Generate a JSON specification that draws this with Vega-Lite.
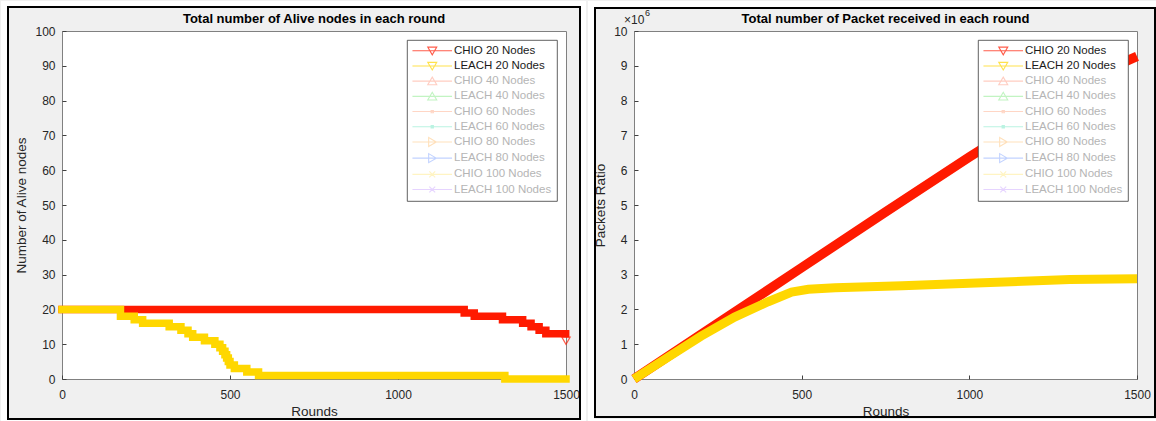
{
  "$schema": "https://vega.github.io/schema/vega-lite/v6.json",
  "background": "#f0f0f0",
  "padding": 0,
  "autosize": {"type": "pad"},
  "spacing": 0,
  "resolve": {
    "scale": {"color": "independent", "shape": "independent"},
    "legend": {"color": "independent", "shape": "independent"}
  },
  "config": {
    "font": "Liberation Sans",
    "view": {"fill": "white", "stroke": "#808080", "strokeWidth": 1},
    "axis": {
      "labelFont": "Liberation Sans", "labelFontSize": 12, "labelColor": "#262626",
      "titleFont": "Liberation Sans", "titleFontSize": 13.5, "titleFontWeight": "normal", "titleColor": "#262626",
      "gridColor": "#e6e6e6", "gridWidth": 1, "domain": false,
      "ticks": true, "tickSize": -4, "tickColor": "#404040",
      "labelPadding": 11, "titlePadding": 6
    },
    "axisX": {"labelFlush": false, "labelPadding": 14, "titlePadding": 4, "format": "d"},
    "title": {"font": "Liberation Sans", "fontSize": 13, "fontWeight": "bold", "color": "#000000", "offset": -25, "frame": "group"},
    "legend": {
      "orient": "top-right", "offset": 9, "padding": 5, "rowPadding": 2.2,
      "fillColor": "white", "strokeColor": "#3a3a3a", "strokeWidth": 0.8,
      "labelFont": "Liberation Sans", "labelFontSize": 11.5,
      "labelColor": {"expr": "datum.value == 'CHIO 20 Nodes' || datum.value == 'LEACH 20 Nodes' ? '#1a1a1a' : '#b5b5b5'"},
      "symbolSize": 81, "symbolStrokeWidth": 1.1, "symbolOffset": 14.5, "labelOffset": 16
    }
  },
  "datasets": {
    "alive_chio": [
      {"round": 0, "nodes": 20}, {"round": 1197, "nodes": 19}, {"round": 1227, "nodes": 18},
      {"round": 1311, "nodes": 17}, {"round": 1371, "nodes": 16}, {"round": 1396, "nodes": 15},
      {"round": 1420, "nodes": 14}, {"round": 1440, "nodes": 13}, {"round": 1499, "nodes": 13},
      {"round": 1500, "nodes": 11}
    ],
    "alive_leach": [
      {"round": 0, "nodes": 20}, {"round": 174, "nodes": 18}, {"round": 215, "nodes": 17},
      {"round": 240, "nodes": 16}, {"round": 319, "nodes": 15}, {"round": 354, "nodes": 14},
      {"round": 375, "nodes": 13}, {"round": 389, "nodes": 12}, {"round": 424, "nodes": 11},
      {"round": 455, "nodes": 10}, {"round": 470, "nodes": 9}, {"round": 478, "nodes": 8},
      {"round": 485, "nodes": 7}, {"round": 490, "nodes": 6}, {"round": 495, "nodes": 5},
      {"round": 500, "nodes": 4}, {"round": 513, "nodes": 3}, {"round": 550, "nodes": 2},
      {"round": 585, "nodes": 1}, {"round": 1318, "nodes": 0}, {"round": 1500, "nodes": 0}
    ],
    "packets_chio": [
      {"round": 0, "packets": 0}, {"round": 250, "packets": 1600000}, {"round": 500, "packets": 3200000},
      {"round": 750, "packets": 4800000}, {"round": 1000, "packets": 6380000}, {"round": 1250, "packets": 7900000},
      {"round": 1460, "packets": 9100000}, {"round": 1500, "packets": 9270000}
    ],
    "packets_leach": [
      {"round": 0, "packets": 0}, {"round": 100, "packets": 620000}, {"round": 200, "packets": 1230000},
      {"round": 300, "packets": 1780000}, {"round": 400, "packets": 2220000}, {"round": 470, "packets": 2500000},
      {"round": 520, "packets": 2580000}, {"round": 600, "packets": 2620000}, {"round": 800, "packets": 2680000},
      {"round": 1000, "packets": 2750000}, {"round": 1200, "packets": 2820000}, {"round": 1300, "packets": 2860000},
      {"round": 1500, "packets": 2880000}
    ],
    "series": [
      {"series": "CHIO 20 Nodes"}, {"series": "LEACH 20 Nodes"}, {"series": "CHIO 40 Nodes"},
      {"series": "LEACH 40 Nodes"}, {"series": "CHIO 60 Nodes"}, {"series": "LEACH 60 Nodes"},
      {"series": "CHIO 80 Nodes"}, {"series": "LEACH 80 Nodes"}, {"series": "CHIO 100 Nodes"},
      {"series": "LEACH 100 Nodes"}
    ]
  },
  "hconcat": [
    {
      "width": 504, "height": 348,
      "view": {"fill": "white", "stroke": "#808080", "strokeWidth": 1},
      "title": {"text": "Total number of Alive nodes in each round"},
      "layer": [
        {
          "data": {"values": [{}]},
          "mark": {"type": "rect", "fill": "transparent", "stroke": "white", "strokeWidth": 6},
          "encoding": {
            "x": {"datum": -172.62, "type": "quantitative", "scale": {"domain": [0, 1500], "nice": false},
                  "axis": {"values": [0, 500, 1000, 1500], "title": "Rounds"}},
            "x2": {"datum": 1550.6},
            "y": {"datum": 107.759, "type": "quantitative", "scale": {"domain": [0, 100], "nice": false},
                  "axis": {"values": [0, 10, 20, 30, 40, 50, 60, 70, 80, 90, 100], "title": "Number of Alive nodes"}},
            "y2": {"datum": -12.356}
          }
        },
        {
          "data": {"values": [{}]},
          "mark": {"type": "rect", "fill": "transparent", "stroke": "black", "strokeWidth": 2},
          "encoding": {
            "x": {"datum": -160.71, "type": "quantitative", "scale": {"domain": [0, 1500], "nice": false},
                  "axis": {"values": [0, 500, 1000, 1500], "title": "Rounds"}},
            "x2": {"datum": 1541.67},
            "y": {"datum": 106.897, "type": "quantitative", "scale": {"domain": [0, 100], "nice": false},
                  "axis": {"values": [0, 10, 20, 30, 40, 50, 60, 70, 80, 90, 100], "title": "Number of Alive nodes"}},
            "y2": {"datum": -11.494}
          }
        },
        {
          "data": {"name": "alive_chio"},
          "transform": [{"filter": "datum.round < 1500"}],
          "mark": {"type": "line", "interpolate": "step-after", "strokeWidth": 7.5, "color": "#ff1a00", "strokeCap": "square"},
          "encoding": {
            "x": {"field": "round", "type": "quantitative", "scale": {"domain": [0, 1500], "nice": false},
                  "axis": {"values": [0, 500, 1000, 1500], "title": "Rounds"}},
            "y": {"field": "nodes", "type": "quantitative", "scale": {"domain": [0, 100], "nice": false},
                  "axis": {"values": [0, 10, 20, 30, 40, 50, 60, 70, 80, 90, 100], "title": "Number of Alive nodes"}}
          }
        },
        {
          "data": {"name": "alive_chio"},
          "transform": [{"filter": "datum.round == 1500"}],
          "mark": {"type": "point", "shape": "triangle-down", "filled": false, "color": "#ff1a00", "size": 70, "strokeWidth": 1.2},
          "encoding": {
            "x": {"field": "round", "type": "quantitative", "scale": {"domain": [0, 1500], "nice": false},
                  "axis": {"values": [0, 500, 1000, 1500], "title": "Rounds"}},
            "y": {"field": "nodes", "type": "quantitative", "scale": {"domain": [0, 100], "nice": false},
                  "axis": {"values": [0, 10, 20, 30, 40, 50, 60, 70, 80, 90, 100], "title": "Number of Alive nodes"}}
          }
        },
        {
          "data": {"name": "alive_leach"},
          "mark": {"type": "line", "interpolate": "step-after", "strokeWidth": 7.5, "color": "#ffd700", "strokeCap": "square"},
          "encoding": {
            "x": {"field": "round", "type": "quantitative", "scale": {"domain": [0, 1500], "nice": false},
                  "axis": {"values": [0, 500, 1000, 1500], "title": "Rounds"}},
            "y": {"field": "nodes", "type": "quantitative", "scale": {"domain": [0, 100], "nice": false},
                  "axis": {"values": [0, 10, 20, 30, 40, 50, 60, 70, 80, 90, 100], "title": "Number of Alive nodes"}}
          }
        },
        {
          "data": {"name": "series"},
          "transform": [{"filter": "false"}],
          "mark": {"type": "point", "filled": false},
          "encoding": {
            "color": {"field": "series", "type": "nominal", "title": null,
              "scale": {"domain": ["CHIO 20 Nodes","LEACH 20 Nodes","CHIO 40 Nodes","LEACH 40 Nodes","CHIO 60 Nodes","LEACH 60 Nodes","CHIO 80 Nodes","LEACH 80 Nodes","CHIO 100 Nodes","LEACH 100 Nodes"],
                        "range": ["#ff1a00","#ffd700","#ffb9a8","#a9f0a9","#ffc6ad","#9eefd6","#ffd5a0","#a9c1ff","#fff0aa","#dcc3ff"]},
              "legend": {"orient": "top-right"}},
            "shape": {"field": "series", "type": "nominal", "title": null,
              "scale": {"domain": ["CHIO 20 Nodes","LEACH 20 Nodes","CHIO 40 Nodes","LEACH 40 Nodes","CHIO 60 Nodes","LEACH 60 Nodes","CHIO 80 Nodes","LEACH 80 Nodes","CHIO 100 Nodes","LEACH 100 Nodes"],
                        "range": [
                          "M-4.4,0H4.4M-1,-0.8H1L0,0.9Z",
                          "M-4.4,0H4.4M-1,-0.8H1L0,0.9Z",
                          "M-4.4,0H4.4M-1,0.8H1L0,-0.9Z",
                          "M-4.4,0H4.4M-1,0.8H1L0,-0.9Z",
                          "M-4.4,0H4.4M-0.25,-0.25H0.25V0.25H-0.25Z",
                          "M-4.4,0H4.4M-0.25,-0.25H0.25V0.25H-0.25Z",
                          "M-4.4,0H4.4M-0.8,-1L0.9,0L-0.8,1Z",
                          "M-4.4,0H4.4M-0.8,-1L0.9,0L-0.8,1Z",
                          "M-4.4,0H4.4M-0.65,-0.65L0.65,0.65M-0.65,0.65L0.65,-0.65",
                          "M-4.4,0H4.4M-0.65,-0.65L0.65,0.65M-0.65,0.65L0.65,-0.65"
                        ]},
              "legend": {"orient": "top-right"}}
          }
        }
      ]
    },
    {
      "width": 503, "height": 348,
      "view": {"fill": "white", "stroke": "#808080", "strokeWidth": 1},
      "title": {"text": "Total number of Packet received in each round"},
      "layer": [
        {
          "data": {"values": [{}]},
          "mark": {"type": "rect", "fill": "transparent", "stroke": "white", "strokeWidth": 6},
          "encoding": {
            "x": {"datum": -128.23, "type": "quantitative", "scale": {"domain": [0, 1500], "nice": false},
                  "axis": {"values": [0, 500, 1000, 1500], "title": "Rounds"}},
            "x2": {"datum": 1565.61},
            "y": {"datum": 10775900, "type": "quantitative", "scale": {"domain": [0, 10000000], "nice": false},
                  "axis": {"values": [0,1000000,2000000,3000000,4000000,5000000,6000000,7000000,8000000,9000000,10000000],
                           "labelExpr": "format(datum.value / 1000000, 'd')", "title": "Packets Ratio"}},
            "y2": {"datum": -1235630}
          }
        },
        {
          "data": {"values": [{}]},
          "mark": {"type": "rect", "fill": "transparent", "stroke": "black", "strokeWidth": 2},
          "encoding": {
            "x": {"datum": -116.3, "type": "quantitative", "scale": {"domain": [0, 1500], "nice": false},
                  "axis": {"values": [0, 500, 1000, 1500], "title": "Rounds"}},
            "x2": {"datum": 1553.68},
            "y": {"datum": 10660900, "type": "quantitative", "scale": {"domain": [0, 10000000], "nice": false},
                  "axis": {"values": [0,1000000,2000000,3000000,4000000,5000000,6000000,7000000,8000000,9000000,10000000],
                           "labelExpr": "format(datum.value / 1000000, 'd')", "title": "Packets Ratio"}},
            "y2": {"datum": -1091950}
          }
        },
        {
          "data": {"values": [{}]},
          "mark": {"type": "text", "text": "×10", "align": "left", "baseline": "alphabetic", "dx": -10, "dy": -7, "fontSize": 12, "color": "#262626"},
          "encoding": {
            "x": {"datum": 0, "type": "quantitative", "scale": {"domain": [0, 1500], "nice": false},
                  "axis": {"values": [0, 500, 1000, 1500], "title": "Rounds"}},
            "y": {"datum": 10000000, "type": "quantitative", "scale": {"domain": [0, 10000000], "nice": false},
                  "axis": {"values": [0,1000000,2000000,3000000,4000000,5000000,6000000,7000000,8000000,9000000,10000000],
                           "labelExpr": "format(datum.value / 1000000, 'd')", "title": "Packets Ratio"}}
          }
        },
        {
          "data": {"values": [{}]},
          "mark": {"type": "text", "text": "6", "align": "left", "baseline": "alphabetic", "dx": 11, "dy": -15, "fontSize": 9, "color": "#262626"},
          "encoding": {
            "x": {"datum": 0, "type": "quantitative", "scale": {"domain": [0, 1500], "nice": false},
                  "axis": {"values": [0, 500, 1000, 1500], "title": "Rounds"}},
            "y": {"datum": 10000000, "type": "quantitative", "scale": {"domain": [0, 10000000], "nice": false},
                  "axis": {"values": [0,1000000,2000000,3000000,4000000,5000000,6000000,7000000,8000000,9000000,10000000],
                           "labelExpr": "format(datum.value / 1000000, 'd')", "title": "Packets Ratio"}}
          }
        },
        {
          "data": {"name": "packets_chio"},
          "mark": {"type": "line", "strokeWidth": 9.5, "color": "#ff1a00", "strokeCap": "butt"},
          "encoding": {
            "x": {"field": "round", "type": "quantitative", "scale": {"domain": [0, 1500], "nice": false},
                  "axis": {"values": [0, 500, 1000, 1500], "title": "Rounds"}},
            "y": {"field": "packets", "type": "quantitative", "scale": {"domain": [0, 10000000], "nice": false},
                  "axis": {"values": [0,1000000,2000000,3000000,4000000,5000000,6000000,7000000,8000000,9000000,10000000],
                           "labelExpr": "format(datum.value / 1000000, 'd')", "title": "Packets Ratio"}}
          }
        },
        {
          "data": {"name": "packets_leach"},
          "mark": {"type": "line", "strokeWidth": 9, "color": "#ffd700", "strokeCap": "butt"},
          "encoding": {
            "x": {"field": "round", "type": "quantitative", "scale": {"domain": [0, 1500], "nice": false},
                  "axis": {"values": [0, 500, 1000, 1500], "title": "Rounds"}},
            "y": {"field": "packets", "type": "quantitative", "scale": {"domain": [0, 10000000], "nice": false},
                  "axis": {"values": [0,1000000,2000000,3000000,4000000,5000000,6000000,7000000,8000000,9000000,10000000],
                           "labelExpr": "format(datum.value / 1000000, 'd')", "title": "Packets Ratio"}}
          }
        },
        {
          "data": {"name": "series"},
          "transform": [{"filter": "false"}],
          "mark": {"type": "point", "filled": false},
          "encoding": {
            "color": {"field": "series", "type": "nominal", "title": null,
              "scale": {"domain": ["CHIO 20 Nodes","LEACH 20 Nodes","CHIO 40 Nodes","LEACH 40 Nodes","CHIO 60 Nodes","LEACH 60 Nodes","CHIO 80 Nodes","LEACH 80 Nodes","CHIO 100 Nodes","LEACH 100 Nodes"],
                        "range": ["#ff1a00","#ffd700","#ffb9a8","#a9f0a9","#ffc6ad","#9eefd6","#ffd5a0","#a9c1ff","#fff0aa","#dcc3ff"]},
              "legend": {"orient": "top-right"}},
            "shape": {"field": "series", "type": "nominal", "title": null,
              "scale": {"domain": ["CHIO 20 Nodes","LEACH 20 Nodes","CHIO 40 Nodes","LEACH 40 Nodes","CHIO 60 Nodes","LEACH 60 Nodes","CHIO 80 Nodes","LEACH 80 Nodes","CHIO 100 Nodes","LEACH 100 Nodes"],
                        "range": [
                          "M-4.4,0H4.4M-1,-0.8H1L0,0.9Z",
                          "M-4.4,0H4.4M-1,-0.8H1L0,0.9Z",
                          "M-4.4,0H4.4M-1,0.8H1L0,-0.9Z",
                          "M-4.4,0H4.4M-1,0.8H1L0,-0.9Z",
                          "M-4.4,0H4.4M-0.25,-0.25H0.25V0.25H-0.25Z",
                          "M-4.4,0H4.4M-0.25,-0.25H0.25V0.25H-0.25Z",
                          "M-4.4,0H4.4M-0.8,-1L0.9,0L-0.8,1Z",
                          "M-4.4,0H4.4M-0.8,-1L0.9,0L-0.8,1Z",
                          "M-4.4,0H4.4M-0.65,-0.65L0.65,0.65M-0.65,0.65L0.65,-0.65",
                          "M-4.4,0H4.4M-0.65,-0.65L0.65,0.65M-0.65,0.65L0.65,-0.65"
                        ]},
              "legend": {"orient": "top-right"}}
          }
        }
      ]
    }
  ]
}
